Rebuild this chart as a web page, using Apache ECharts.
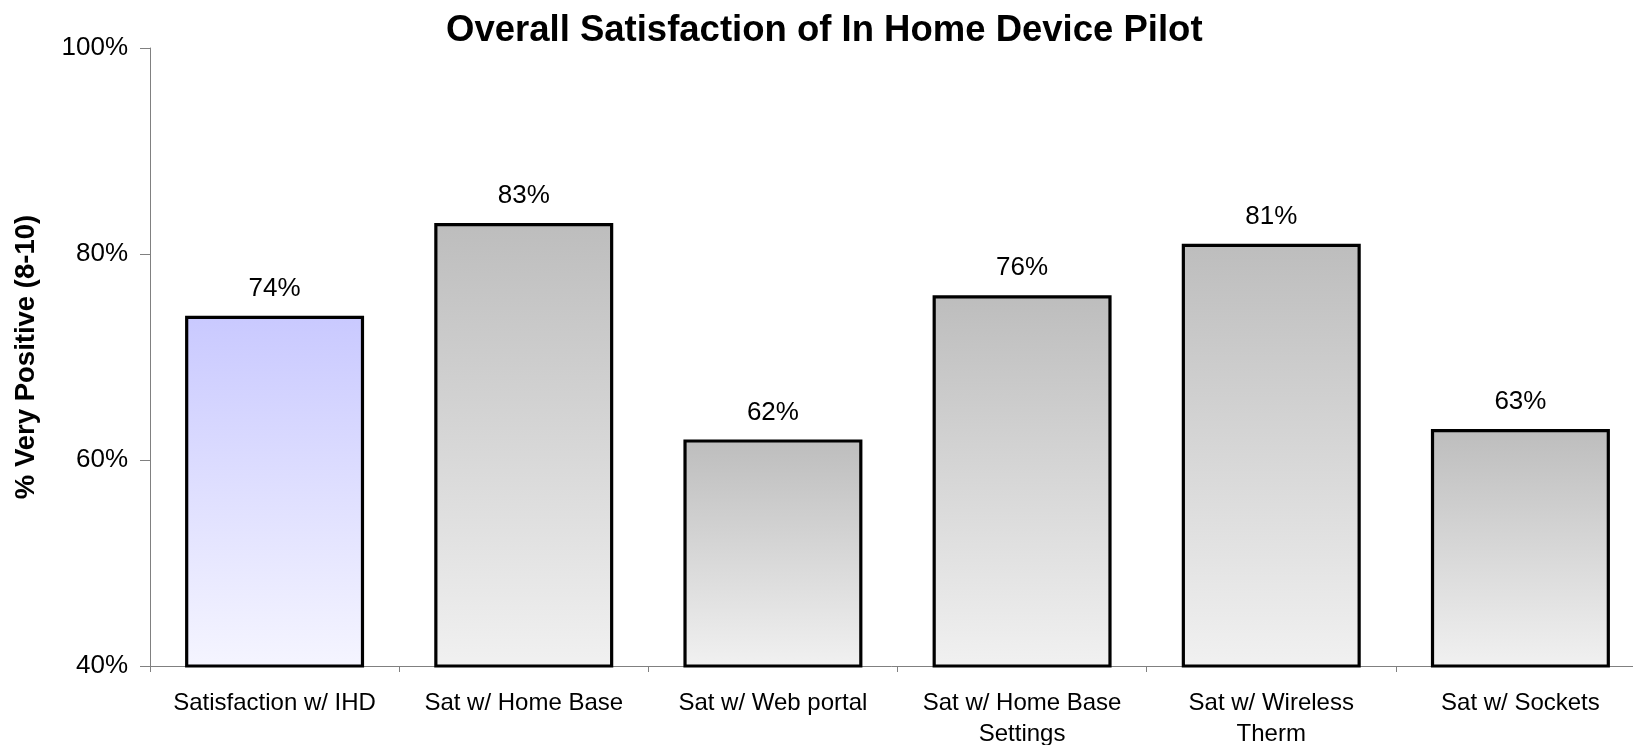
<!DOCTYPE html>
<html>
<head>
<meta charset="utf-8">
<title>Overall Satisfaction of In Home Device Pilot</title>
<script src="https://cdn.jsdelivr.net/npm/echarts@6/dist/echarts.min.js"></script>
<style>
  html, body { margin: 0; padding: 0; background: #ffffff; }
  #chart { width: 1633px; height: 745px; }
</style>
</head>
<body>
<div id="chart"></div>
<script>
// Survey results: share of respondents rating 8-10
const chartTitle = 'Overall Satisfaction of In Home Device Pilot';
const yAxisTitle = '% Very Positive (8-10)';
const categories = [
  'Satisfaction w/ IHD',
  'Sat w/ Home Base',
  'Sat w/ Web portal',
  'Sat w/ Home Base\nSettings',
  'Sat w/ Wireless\nTherm',
  'Sat w/ Sockets'
];
const veryPositive = [74, 83, 62, 76, 81, 63];
const yTicks = { min: 40, max: 100, step: 20 };

const FONT = '"Liberation Sans", Arial, Helvetica, sans-serif';

function fade(top, bottom) {
  return new echarts.graphic.LinearGradient(0, 0, 0, 1, [
    { offset: 0, color: top },
    { offset: 1, color: bottom }
  ]);
}
const greyFill = fade('#bdbdbd', '#f1f1f1');
const blueFill = fade('#c9c9ff', '#f5f5ff');

const chart = echarts.init(document.getElementById('chart'), null, { renderer: 'canvas' });

chart.setOption({
  backgroundColor: '#ffffff',
  animation: false,
  title: {
    text: chartTitle,
    left: 441,
    top: 7,
    textStyle: {
      fontFamily: FONT,
      fontWeight: 'bold',
      fontSize: 36.5,
      color: '#000000'
    }
  },
  // the plot runs a little past the right edge of the canvas,
  // and the wrapped category labels run off the bottom
  grid: {
    left: 150, width: 1495, top: 48, bottom: 79,
    containLabel: false,
    outerBoundsMode: 'none'
  },
  xAxis: {
    type: 'category',
    data: categories,
    axisLine: { lineStyle: { color: '#808080', width: 1 } },
    axisTick: { show: true, length: 6, lineStyle: { color: '#808080' } },
    axisLabel: {
      interval: 0,
      margin: 22,
      color: '#000000',
      fontFamily: FONT,
      fontSize: 24,
      lineHeight: 31
    },
    splitLine: { show: false }
  },
  yAxis: {
    type: 'value',
    min: yTicks.min,
    max: yTicks.max,
    interval: yTicks.step,
    name: yAxisTitle,
    nameLocation: 'middle',
    nameGap: 110,
    nameRotate: 90,
    nameTextStyle: {
      fontFamily: FONT,
      fontWeight: 'bold',
      fontSize: 27.5,
      color: '#000000'
    },
    axisLine: { show: true, lineStyle: { color: '#808080', width: 1 } },
    axisTick: { show: true, inside: false, length: 10, lineStyle: { color: '#808080' } },
    axisLabel: {
      margin: 22,
      color: '#000000',
      fontFamily: FONT,
      fontSize: 26,
      formatter: '{value}%'
    },
    splitLine: { show: false }
  },
  series: [{
    type: 'bar',
    data: veryPositive.map((v, i) => ({
      value: v,
      itemStyle: { color: i === 0 ? blueFill : greyFill }
    })),
    barWidth: 179,
    itemStyle: { borderColor: '#000000', borderWidth: 3.2 },
    label: {
      show: true,
      position: 'top',
      distance: 14,
      color: '#000000',
      fontFamily: FONT,
      fontSize: 26,
      formatter: p => p.value + '%'
    }
  }]
});
</script>
</body>
</html>
